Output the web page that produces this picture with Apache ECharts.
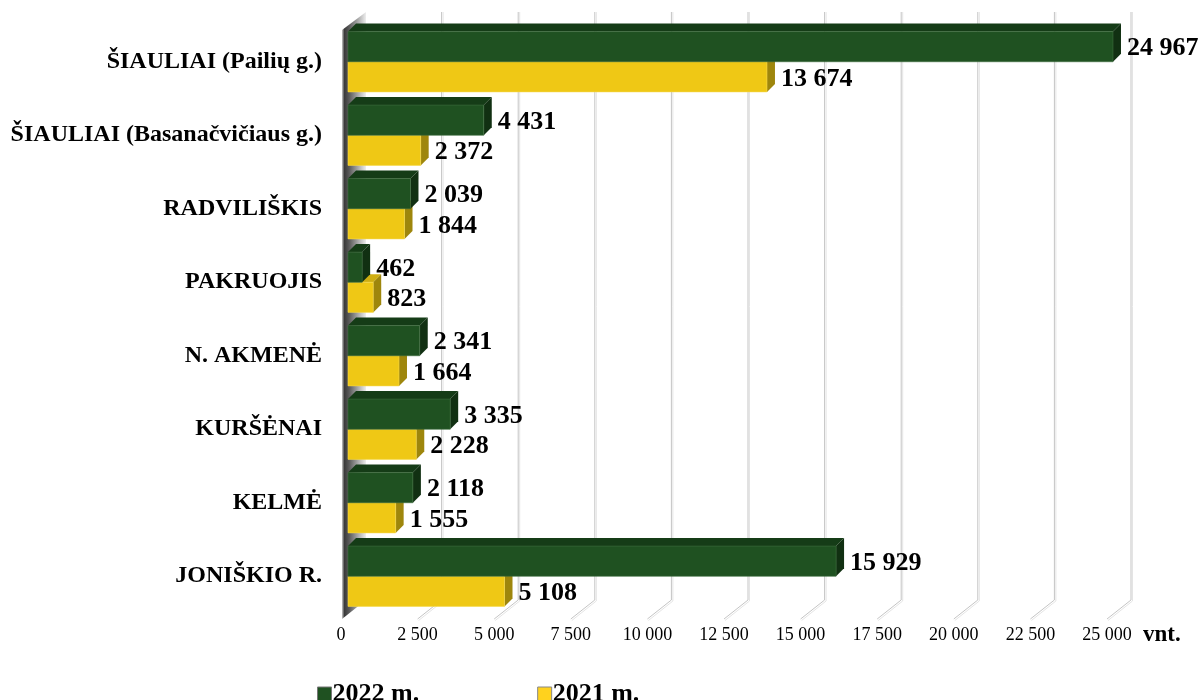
<!DOCTYPE html>
<html>
<head>
<meta charset="utf-8">
<script src="https://cdn.jsdelivr.net/npm/echarts@6/dist/echarts.min.js"></script>
<style>html,body{margin:0;padding:0;background:#fff}#c{width:1202px;height:700px}</style>
</head>
<body>
<div id="c"></div>
<script>
const categories = ['ŠIAULIAI (Pailių g.)', 'ŠIAULIAI (Basanačvičiaus g.)', 'RADVILIŠKIS', 'PAKRUOJIS', 'N. AKMENĖ', 'KURŠĖNAI', 'KELMĖ', 'JONIŠKIO R.'];
const values2022 = [24967, 4431, 2039, 462, 2341, 3335, 2118, 15929];
const values2021 = [13674, 2372, 1844, 823, 1664, 2228, 1555, 5108];
const seriesNames = ['2022 m.', '2021 m.'];
const xTicks = [0, 2500, 5000, 7500, 10000, 12500, 15000, 17500, 20000, 22500, 25000];
const unitLabel = 'vnt.';

const SERIF = '"Liberation Serif", "Times New Roman", serif';
const fmt = v => String(v).replace(/\B(?=(\d{3})+(?!\d))/g, ' ');

const GREEN = {front: '#1F5121', top: '#153C17', side: '#113012', edge: '#3d6b3d'};
const YELLOW = {front: '#EFC815', top: '#CFAE12', side: '#9E860C', edge: '#f5d94a'};
const D = 8;          // bar depth offset
const BACK = 17;      // back wall offset x
const BACKY = 13;     // back wall offset y
const FRONT = -7;     // floor front offset x
const FRONTY = 6;     // floor front offset y

function barRenderer(pal, upper) {
  return function (params, api) {
    const val = api.value(0), ci = api.value(1);
    const p0 = api.coord([0, ci]);
    const p1 = api.coord([val, ci]);
    const band = api.size([0, 1])[1];
    const h = band * 0.41;
    const x0 = p0[0], x1 = p1[0];
    const y0 = upper ? p0[1] - h : p0[1];
    const y1 = y0 + h;
    return {
      type: 'group',
      children: [
        {type: 'polygon', shape: {points: [[x0, y0], [x0 + D, y0 - D], [x1 + D, y0 - D], [x1, y0]]},
         style: {fill: pal.top}},
        {type: 'polygon', shape: {points: [[x1, y0], [x1 + D, y0 - D], [x1 + D, y1 - D], [x1, y1]]},
         style: {fill: pal.side}},
        {type: 'rect', shape: {x: x0, y: y0, width: x1 - x0, height: h},
         style: {fill: pal.front, stroke: pal.edge, lineWidth: 0.6}},
        {type: 'text', x: x1 + D + 6, y: (y0 + y1) / 2 + 2,
         style: {text: fmt(val), fill: '#000', font: 'bold 26px ' + SERIF, align: 'left', verticalAlign: 'middle'}}
      ]
    };
  };
}

function gridRenderer(params, api) {
  const v = api.value(0);
  const cs = params.coordSys;
  const x = api.coord([v, 0])[0];
  const top = cs.y, bottom = cs.y + cs.height;
  if (v === 0) {
    return {
      type: 'polygon',
      shape: {points: [[x - 6, top + 5], [x + BACK + 1, top - BACKY], [x + BACK + 1, bottom - BACKY], [x - 6, bottom + FRONTY]]},
      style: {
        fill: new echarts.graphic.LinearGradient(0, 0, 1, 0, [
          {offset: 0, color: '#c8c8c8'},
          {offset: 0.1, color: '#3a3a3a'},
          {offset: 0.3, color: '#5a5a5a'},
          {offset: 0.7, color: '#b0b0b0'},
          {offset: 1, color: '#eeeeee'}
        ])
      }
    };
  }
  return {
    type: 'group',
    children: [
      {type: 'polyline', shape: {points: [[x + BACK, top - BACKY], [x + BACK, bottom - BACKY], [x + FRONT, bottom + FRONTY]]},
       style: {stroke: '#c4c4c4', lineWidth: 1, fill: null}},
      {type: 'polyline', shape: {points: [[x + BACK + 1.5, top - BACKY], [x + BACK + 1.5, bottom - BACKY + 1], [x + FRONT + 1, bottom + FRONTY + 1.5]]},
       style: {stroke: '#e4e4e4', lineWidth: 1, fill: null}}
    ]
  };
}

const chart = echarts.init(document.getElementById('c'), null, {renderer: 'canvas'});
chart.setOption({
  animation: false,
  color: [GREEN.front, YELLOW.front],
  grid: {left: 348, right: 88, top: 25, bottom: 87},
  legend: {
    left: 312, top: 676, itemGap: 118, itemWidth: 14, itemHeight: 14,
    icon: 'rect',
    textStyle: {fontFamily: SERIF, fontWeight: 'bold', fontSize: 26, color: '#000', padding: [0, 0, 0, -4]},
    data: [
      {name: seriesNames[0], itemStyle: {color: GREEN.front, borderColor: '#777', borderWidth: 1}},
      {name: seriesNames[1], itemStyle: {color: '#FFD21E', borderColor: '#888', borderWidth: 1}}
    ]
  },
  xAxis: {
    type: 'value', min: 0, max: 25000, interval: 2500,
    axisLine: {show: false}, axisTick: {show: false}, splitLine: {show: false},
    axisLabel: {formatter: fmt, fontFamily: SERIF, fontSize: 18, color: '#000', margin: 13, padding: [0, 14, 0, 0]},
    name: unitLabel, nameLocation: 'end', nameGap: 29,
    nameTextStyle: {fontFamily: SERIF, fontWeight: 'bold', fontSize: 23, color: '#000', verticalAlign: 'top', padding: [11, 0, 0, 0]}
  },
  yAxis: {
    type: 'category', data: categories, inverse: true,
    axisLine: {show: false}, axisTick: {show: false}, splitLine: {show: false},
    axisLabel: {fontFamily: SERIF, fontWeight: 'bold', fontSize: 24, color: '#000', margin: 26, padding: [12, 0, 0, 0]}
  },
  series: [
    {type: 'custom', name: '_grid', silent: true, clip: false, z: 1,
     renderItem: gridRenderer, encode: {x: 0},
     data: xTicks.map(t => [t])},
    {type: 'custom', name: seriesNames[0], clip: false, z: 3,
     itemStyle: {color: GREEN.front},
     renderItem: barRenderer(GREEN, true), encode: {x: 0, y: 1},
     data: values2022.map((v, i) => [v, i])},
    {type: 'custom', name: seriesNames[1], clip: false, z: 2,
     itemStyle: {color: YELLOW.front},
     renderItem: barRenderer(YELLOW, false), encode: {x: 0, y: 1},
     data: values2021.map((v, i) => [v, i])}
  ]
});
</script>
</body>
</html>
